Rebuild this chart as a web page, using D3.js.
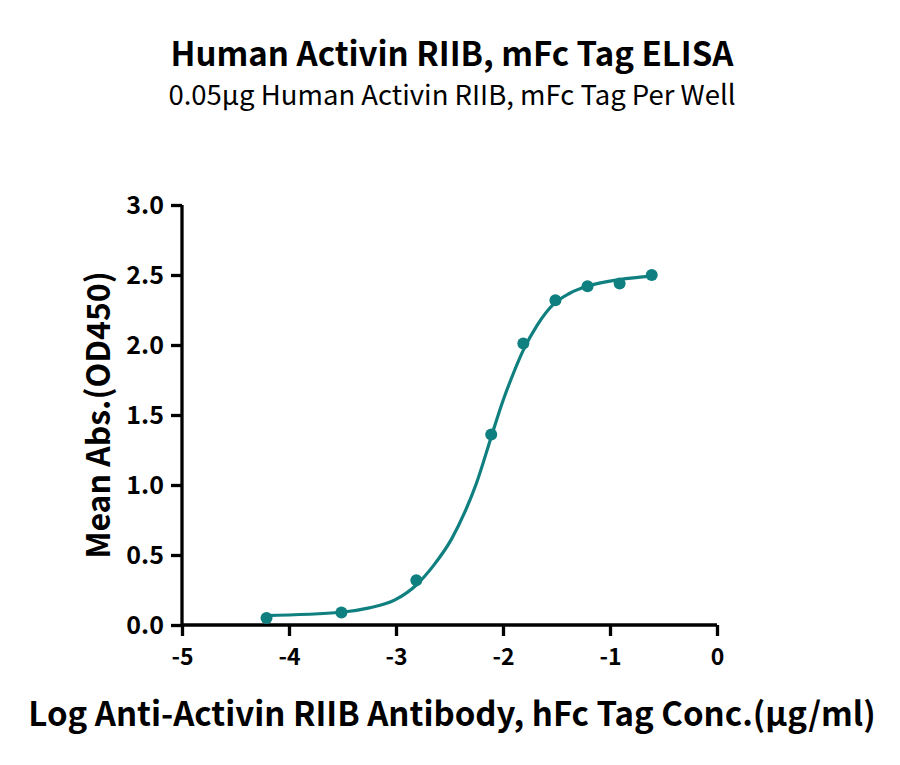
<!DOCTYPE html>
<html lang="en">
<head>
    <meta charset="UTF-8">
    <title>Human Activin RIIB ELISA</title>
    <script src="https://d3js.org/d3.v7.min.js"></script>
    <style>
        body { margin: 0; background: #fff; }
        text { font-family: "Noto Sans CJK SC", "Noto Sans", sans-serif; }
    </style>
</head>
<body>
    <svg width="900" height="765"></svg>
    <script type="text/javascript">

        // measured points: log concentration and mean OD450
        var logConc = [-4.21, -3.51, -2.81, -2.11, -1.81, -1.51, -1.21, -0.91, -0.61];
        var meanAbs = [0.05, 0.09, 0.32, 1.36, 2.01, 2.32, 2.42, 2.44, 2.50];

        // fitted curve
        var curveX = [-4.22, -3.51, -3.25, -3.01, -2.81, -2.65, -2.48, -2.35, -2.25, -2.11, -2.01, -1.91, -1.81, -1.68, -1.52, -1.38, -1.21, -0.91, -0.60];
        var curveY = [0.067, 0.091, 0.122, 0.179, 0.286, 0.424, 0.615, 0.818, 1.009, 1.343, 1.581, 1.784, 1.963, 2.142, 2.297, 2.368, 2.421, 2.468, 2.492];

        var xTicks = [-5, -4, -3, -2, -1, 0];
        var yTicks = [0, 0.5, 1.0, 1.5, 2.0, 2.5, 3.0];

        var title = "Human Activin RIIB, mFc Tag ELISA";
        var subtitle = "0.05\u03bcg Human Activin RIIB, mFc Tag Per Well";
        var xLabel = "Log Anti-Activin RIIB Antibody, hFc Tag Conc.(\u03bcg/ml)";
        var yLabel = "Mean Abs.(OD450)";

        var teal = "#0f7f7f";
        var margin = {left: 182, top: 205, right: 183, bottom: 140};
        var width = 900 - margin.left - margin.right;
        var height = 765 - margin.top - margin.bottom;

        var svg = d3.select("svg");

        var x = d3.scaleLinear().domain([-5, 0]).range([0, width]);
        var y = d3.scaleLinear().domain([0, 3]).range([height, 0]);

        var g = svg.append("g")
            .attr("transform", "translate(" + margin.left + "," + margin.top + ")");

        // x axis (plain hyphen for the minus sign, like the original)
        var xAxis = g.append("g")
            .attr("transform", "translate(0," + height + ")")
            .call(d3.axisBottom(x).tickValues(xTicks)
                .tickFormat(function(d) { return String(d); })
                .tickSize(11).tickPadding(13));

        // y axis
        var yAxis = g.append("g")
            .call(d3.axisLeft(y).tickValues(yTicks).tickFormat(d3.format(".1f")).tickSize(11).tickPadding(7));

        [xAxis, yAxis].forEach(function(a) {
            a.selectAll("path").attr("stroke", "#000").attr("stroke-width", 3.3);
            a.selectAll("line").attr("stroke", "#000").attr("stroke-width", 3.3);
            a.selectAll("text")
                .attr("fill", "#000")
                .attr("font-family", "'Noto Sans CJK SC', sans-serif")
                .attr("font-weight", "bold");
        });
        xAxis.selectAll("text").attr("font-size", "23px");
        yAxis.selectAll("text").attr("font-size", "25px");
        xAxis.select(".domain").attr("d", "M0,0H" + width);
        yAxis.select(".domain").attr("d", "M0," + height + "V0");

        // fitted curve
        var line = d3.line()
            .x(function(d, i) { return x(curveX[i]); })
            .y(function(d) { return y(d); })
            .curve(d3.curveMonotoneX);

        g.append("path")
            .datum(curveY)
            .attr("d", line)
            .attr("fill", "none")
            .attr("stroke", teal)
            .attr("stroke-width", 3.2);

        // points
        g.selectAll("circle")
            .data(meanAbs)
            .enter().append("circle")
            .attr("cx", function(d, i) { return x(logConc[i]); })
            .attr("cy", function(d) { return y(d); })
            .attr("r", 6)
            .attr("fill", teal);

        // titles
        svg.append("text")
            .attr("x", 452).attr("y", 66)
            .attr("text-anchor", "middle")
            .attr("font-weight", "bold")
            .attr("font-size", "33px")
            .text(title);

        svg.append("text")
            .attr("x", 452).attr("y", 105)
            .attr("text-anchor", "middle")
            .attr("font-size", "27.5px")
            .text(subtitle);

        // axis labels
        svg.append("text")
            .attr("x", 452).attr("y", 726)
            .attr("text-anchor", "middle")
            .attr("font-weight", "bold")
            .attr("font-size", "33px")
            .text(xLabel);

        svg.append("text")
            .attr("transform", "translate(110," + (margin.top + height / 2) + ") rotate(-90)")
            .attr("text-anchor", "middle")
            .attr("font-weight", "bold")
            .attr("font-size", "32px")
            .text(yLabel);

    </script>
</body>
</html>
